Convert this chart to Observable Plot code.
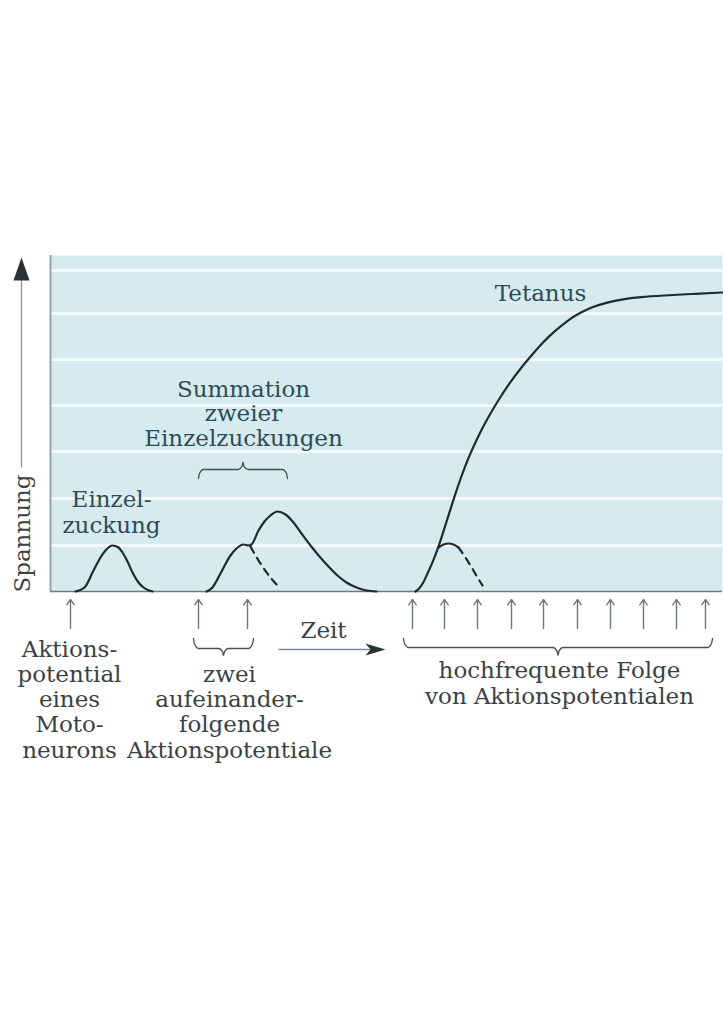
<!DOCTYPE html>
<html>
<head>
<meta charset="utf-8">
<script src="https://cdn.jsdelivr.net/npm/d3@7"></script>
<script src="https://cdn.jsdelivr.net/npm/@observablehq/plot@0.6"></script>
<style>
  html, body { margin: 0; padding: 0; background: #ffffff; }
  #chart svg { display: block; }
</style>
</head>
<body>
<div id="chart"></div>
<script>
// ---- data (time in arbitrary units, tension "Spannung" in arbitrary units) ----
const pulses = [20, 148, 197, 362, 394, 427, 461, 493, 527, 560, 593, 626, 655];
const stripes = [46, 93, 140, 186, 232, 278, 321];

const singleTwitch = [[25,0],[34,4],[43,21],[50,34],[55,41],[62,46],[68,44],[72,39],[77,30],[82,19],[88,9],[93,4],[102,0]];
const summation = [[156,0],[162,4],[170,18],[180,36],[186,43],[193,47],[198,46],[201,47],[208,61],[214,70],[220,76],[227,80],[235,77],[243,69],[251,58],[260,46],[269,35],[278,25],[287,16],[296,9],[306,4],[316,1],[326,0]];
const summationDecay = [[200,45],[205,36],[212,25],[220,14],[228,5]];
const tetanus = [[365,0],[369,3],[373,9],[377,18],[382,29],[388,44],[397,73],[403,92],[410,113],[418,134],[427,154],[437,173],[447,190],[458,207],[470,223],[481,236],[493,250],[505,261],[517,271],[530,279],[543,285],[557,289],[570,292],[590,294.5],[613,296],[640,297.5],[672,299]];
const tetanusTwitch = [[388,44],[393,47],[398,48],[403,47],[408,44]];
const tetanusDecay = [[408,44],[413,37],[420,26],[427,14],[432,6]];

// brace spans: [start, end]
const braceSummation = [148, 237];
const bracePair = [143, 203];
const braceTrain = [353, 662];

// ---- helpers ----
function brace([x1, x2], yEnd, yLine, yTip) {
  const xm = (x1 + x2) / 2;
  const a = yLine + (yEnd - yLine) * 0.45;
  const b = yLine + (yTip - yLine) * 0.45;
  return [
    [x1, yEnd], [x1 + 1, a], [x1 + 5, yLine], [xm - 5, yLine], [xm - 1, b], [xm, yTip],
    [xm + 1, b], [xm + 5, yLine], [x2 - 5, yLine], [x2 - 1, a], [x2, yEnd]
  ];
}
const headUp = { draw(ctx) { ctx.moveTo(0, 0); ctx.lineTo(8, 23); ctx.lineTo(-8, 23); ctx.closePath(); } };
const headRight = { draw(ctx) { ctx.moveTo(0, 0); ctx.lineTo(-20, -6); ctx.lineTo(-15, 0); ctx.lineTo(-20, 6); ctx.closePath(); } };

const curveStyle = { x: d => d[0], y: d => d[1], stroke: "#1f2b2e", strokeWidth: 2.2, curve: "monotone-x" };
const dashStyle = { ...curveStyle, strokeDasharray: "7,6" };
const braceStyle = { x: d => d[0], y: d => d[1], stroke: "#4a4f52", strokeWidth: 1.3, curve: "monotone-x" };
const inText = "#2c4d55";
const outText = "#3a4246";
const fs = 23;

const chart = Plot.plot({
  width: 723,
  height: 1024,
  marginLeft: 50,
  marginRight: 1,
  marginTop: 255,
  marginBottom: 433,
  x: { domain: [0, 672], axis: null },
  y: { domain: [0, 336], axis: null },
  style: { fontFamily: "'DejaVu Serif', serif", background: "#ffffff", overflow: "visible" },
  marks: [
    Plot.frame({ fill: "#d6eaf0", stroke: "none" }),
    Plot.ruleY(stripes, { stroke: "#f4fafb", strokeWidth: 3 }),
    Plot.ruleX([0], { stroke: "#95a4aa", strokeWidth: 2 }),
    Plot.ruleY([0], { stroke: "#6f7a7d", strokeWidth: 1.5 }),

    Plot.line(singleTwitch, curveStyle),
    Plot.line(summation, curveStyle),
    Plot.line(summationDecay, dashStyle),
    Plot.line(tetanus, { ...curveStyle, curve: "basis" }),
    Plot.line(tetanusTwitch, curveStyle),
    Plot.line(tetanusDecay, dashStyle),

    // in-panel labels
    Plot.text(["Einzel-\nzuckung"], { x: 61, y: 59, text: d => d, fontSize: fs, lineAnchor: "bottom", lineHeight: 1.09, fill: inText }),
    Plot.text(["Summation\nzweier\nEinzelzuckungen"], { x: 193, y: 146, text: d => d, fontSize: fs, lineAnchor: "bottom", lineHeight: 1.05, fill: inText }),
    Plot.text(["Tetanus"], { x: 490, y: 291, text: d => d, fontSize: fs, lineAnchor: "bottom", fill: inText }),
    Plot.line(brace(braceSummation, 113, 122, 129), braceStyle),

    // y axis label + arrow
    Plot.link([0], { x1: -29, x2: -29, y1: 124, y2: 318, stroke: "#8c9196", strokeWidth: 1.2 }),
    Plot.dot([0], { x: -29, y: 334, r: 5, symbol: headUp, fill: "#2a3236", stroke: "none" }),
    Plot.text(["Spannung"], { x: -21, y: 58, text: d => d, fontSize: fs, rotate: -90, lineAnchor: "bottom", fill: outText }),

    // stimulus arrows
    Plot.arrow(pulses, { x1: d => d, x2: d => d, y1: -37, y2: -8, stroke: "#6f7782", strokeWidth: 1.4, headLength: 7, headAngle: 70 }),

    // braces below
    Plot.line(brace(bracePair, -47, -57, -64), braceStyle),
    Plot.line(brace(braceTrain, -47, -56, -64), braceStyle),

    // time arrow
    Plot.link([0], { x1: 228, x2: 322, y1: -58, y2: -58, stroke: "#7d8aa0", strokeWidth: 1.5 }),
    Plot.dot([0], { x: 335, y: -58, r: 5, symbol: headRight, fill: "#2a3236", stroke: "none" }),
    Plot.text(["Zeit"], { x: 273, y: -46, text: d => d, fontSize: fs, lineAnchor: "bottom", fill: outText }),

    // bottom labels
    Plot.text(["Aktions-\npotential\neines\nMoto-\nneurons"], { x: 19, y: -166, text: d => d, fontSize: fs, lineAnchor: "bottom", lineHeight: 1.09, fill: outText }),
    Plot.text(["zwei\naufeinander-\nfolgende\nAktionspotentiale"], { x: 179, y: -166, text: d => d, fontSize: fs, lineAnchor: "bottom", lineHeight: 1.09, fill: outText }),
    Plot.text(["hochfrequente Folge\nvon Aktionspotentialen"], { x: 509, y: -112, text: d => d, fontSize: fs, lineAnchor: "bottom", lineHeight: 1.13, fill: outText })
  ]
});
document.getElementById("chart").appendChild(chart);
</script>
</body>
</html>
